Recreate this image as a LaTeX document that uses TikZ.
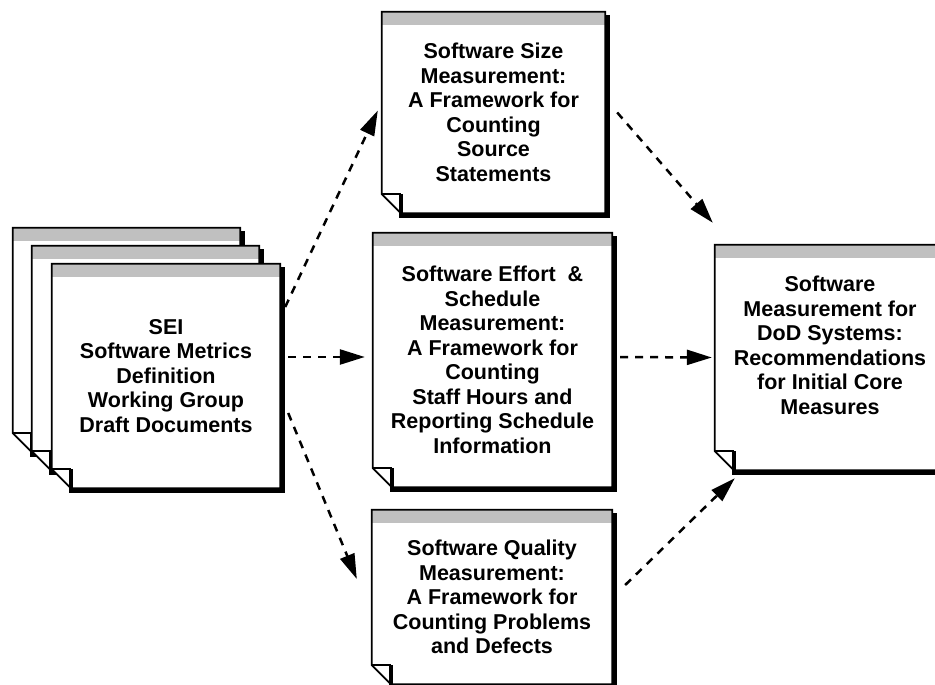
\documentclass[tikz,border=0pt]{standalone}
\usepackage{fontspec}
\setmainfont{Liberation Sans}
\usetikzlibrary{arrows.meta, calc, backgrounds}
\definecolor{bandgray}{RGB}{192, 192, 192}

\newcommand{\docpage}[1]{%
  \begin{pgfonlayer}{background}
    \fill ($(#1.north east)+(0,3)$) rectangle ($(#1.south east)+(5,5)$);
    \fill ($(#1.south west)+(19,0)$) rectangle ($(#1.south east)+(5,5)$);
    \fill[white] (#1.north west) -- (#1.north east) -- (#1.south east)
      -- ($(#1.south west)+(19,0)$) -- ($(#1.south west)+(0,-19)$) -- cycle;
    \fill[bandgray] (#1.north west) rectangle ($(#1.north east)+(0,13)$);
    \draw[line width=1.8pt] (#1.north west) -- (#1.north east) -- (#1.south east)
      -- ($(#1.south west)+(19,0)$) -- ($(#1.south west)+(0,-19)$) -- cycle;
    \draw[line width=1.8pt] ($(#1.south west)+(0,-19)$) -- ($(#1.south west)+(19,-19)$);
    \draw[line width=4pt] ($(#1.south west)+(19,-19)$) -- ($(#1.south west)+(19,5)$);
  \end{pgfonlayer}}

\begin{document}
\begin{tikzpicture}[x=1pt, y=-1pt,
  page/.style={inner sep=0pt, align=center,
    font=\bfseries\fontsize{21.5}{24.5}\selectfont},
  flow/.style={line width=2.5pt, dash pattern=on 8pt off 7pt,
    -{Triangle[length=25pt, width=15pt]}}]

  \useasboundingbox (0,0) rectangle (935,685);

  %Draft documents, back to front
  \path
   (126.5,340) node[page, minimum width=227, minimum height=224](draftback) {}
   (145.5,358) node[page, minimum width=227, minimum height=224](draftmid) {}
   (166,376) node[page, minimum width=228, minimum height=224](sei)
     {SEI\\Software Metrics\\Definition\\Working Group\\Draft Documents};

  %Reports
  \path
   (493.5,112.5) node[page, minimum width=223, minimum height=201](size)
     {Software Size\\Measurement:\\A Framework for\\Counting\\Source\\Statements}
   (492.5,360) node[page, minimum width=239, minimum height=254](effort)
     {Software Effort~ \&\\Schedule\\Measurement:\\A Framework for\\Counting\\Staff Hours and\\Reporting Schedule\\Information}
   (492,597) node[page, minimum width=240, minimum height=174](quality)
     {Software Quality\\Measurement:\\A Framework for\\Counting Problems\\and Defects}
   (830,357.5) node[page, minimum width=230, minimum height=225](core)
     {Software\\Measurement for\\DoD Systems:\\Recommendations\\for Initial Core\\Measures\\ \mbox{}};

  \docpage{draftback}
  \docpage{draftmid}
  \docpage{sei}
  \docpage{size}
  \docpage{effort}
  \docpage{quality}
  \docpage{core}

  \draw[flow] ($(sei.east)+(5,-69)$) -- ($(size.west)+(-4,-2)$);
  \draw[flow] ($(sei.east)+(8,-19)$) -- ($(effort.west)+(-8,-3)$);
  \draw[flow] ($(sei.east)+(8,37)$) -- ($(quality.west)+(-15,-18)$);
  \draw[flow] ($(size.east)+(12,0)$) -- ($(core.north west)+(-2,-22)$);
  \draw[flow] ($(effort.east)+(8,-3)$) -- ($(core.west)+(-3,0)$);
  \draw[flow] ($(quality.east)+(13,-12)$) -- ($(core.south west)+(20,8)$);
\end{tikzpicture}
\end{document}
